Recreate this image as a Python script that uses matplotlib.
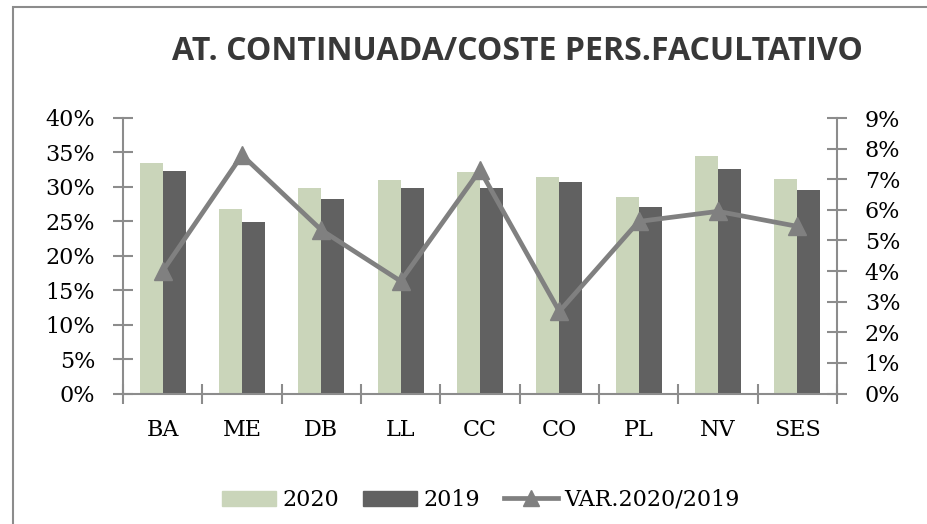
import matplotlib
matplotlib.use("Agg")
import matplotlib.pyplot as plt
import numpy as np
from matplotlib.patches import Rectangle
from matplotlib.lines import Line2D
from matplotlib.ticker import FuncFormatter

categories = ["BA", "ME", "DB", "LL", "CC", "CO", "PL", "NV", "SES"]
v2020 = [0.334, 0.268, 0.298, 0.310, 0.321, 0.314, 0.285, 0.345, 0.312]
v2019 = [0.323, 0.249, 0.282, 0.298, 0.298, 0.307, 0.271, 0.326, 0.295]
var = [0.0400, 0.0779, 0.0534, 0.0367, 0.0730, 0.0268, 0.0562, 0.0595, 0.0546]
left_ticks = [0, 0.05, 0.10, 0.15, 0.20, 0.25, 0.30, 0.35, 0.40]
right_ticks = [0, 0.01, 0.02, 0.03, 0.04, 0.05, 0.06, 0.07, 0.08, 0.09]

c2020 = "#CAD5BA"
c2019 = "#616161"
cline = "#808080"
spine_c = "#8C8C8C"

W, H = 927, 524
fig = plt.figure(figsize=(W / 100, H / 100), dpi=100)
serif = ["DejaVu Serif"]
fs = 16

# outer frame
fig.add_artist(Rectangle((13 / W, -0.1), 1.2, (H - 7) / H + 0.1, transform=fig.transFigure,
                         fill=False, edgecolor="#8C8C8C", linewidth=1.5))

x0, x1 = 123, 837
y0, y1 = 393.5, 118
ax = fig.add_axes([x0 / W, 1 - y0 / H, (x1 - x0) / W, (y0 - y1) / H])
ax2 = ax.twinx()

x = np.arange(len(categories))
bw = 0.29
ax.bar(x - bw / 2, v2020, bw, color=c2020, label="2020", zorder=2)
ax.bar(x + bw / 2, v2019, bw, color=c2019, label="2019", zorder=2)
ax.set_xlim(-0.5, len(categories) - 0.5)
ax.set_ylim(0, 0.40)
ax.set_yticks(left_ticks)
ax.yaxis.set_major_formatter(FuncFormatter(lambda v, p: f"{round(v*100)}%"))

ax2.plot(x, var, color=cline, linewidth=3.4, marker="^", markersize=13, zorder=5,
         label="VAR.2020/2019")
ax2.set_ylim(0, 0.09)
ax2.set_yticks(right_ticks)
ax2.yaxis.set_major_formatter(FuncFormatter(lambda v, p: f"{round(v*100)}%"))

# x ticks at boundaries, labels at centers
ax.set_xticks(np.arange(-0.5, len(categories), 1.0))
ax.set_xticklabels([])
ax.set_xticks(x, minor=True)
ax.set_xticklabels(categories, minor=True)
ax.tick_params(axis="x", which="minor", length=0, pad=18)
ax.tick_params(axis="x", which="major", direction="inout", length=14, width=1.5, color=spine_c)

for a in (ax, ax2):
    a.spines["top"].set_visible(False)
    for s in ("left", "right", "bottom"):
        a.spines[s].set_color(spine_c)
        a.spines[s].set_linewidth(1.5)
    a.patch.set_visible(False)
ax.spines["right"].set_visible(False)
ax2.spines["left"].set_visible(False)
ax2.spines["bottom"].set_visible(False)

ax.tick_params(axis="y", direction="inout", length=14, width=1.5, color=spine_c, pad=13)
ax2.tick_params(axis="y", direction="inout", length=14, width=1.5, color=spine_c, pad=13)
for lab in ax.get_yticklabels() + ax2.get_yticklabels() + ax.get_xticklabels(minor=True):
    lab.set_family(serif)
    lab.set_fontsize(fs)

fig.text(517 / W, 1 - 52 / H, "AT. CONTINUADA/COSTE PERS.FACULTATIVO", ha="center",
         va="center", fontsize=23, fontweight="bold", family=["Open Sans"], color="#383838")

handles = [Rectangle((0, 0), 1, 1, color=c2020), Rectangle((0, 0), 1, 1, color=c2019),
           Line2D([0], [0], color=cline, linewidth=3.4, marker="^", markersize=12)]
fig.legend(handles, ["2020", "2019", "VAR.2020/2019"], loc="center",
           bbox_to_anchor=(481 / W, 1 - 500 / H), ncol=3, frameon=False,
           prop={"family": serif, "size": fs}, handlelength=2.4, handleheight=0.65,
           columnspacing=1.1, handletextpad=0.3, borderpad=0, borderaxespad=0)

fig.savefig("out.png", dpi=100)
